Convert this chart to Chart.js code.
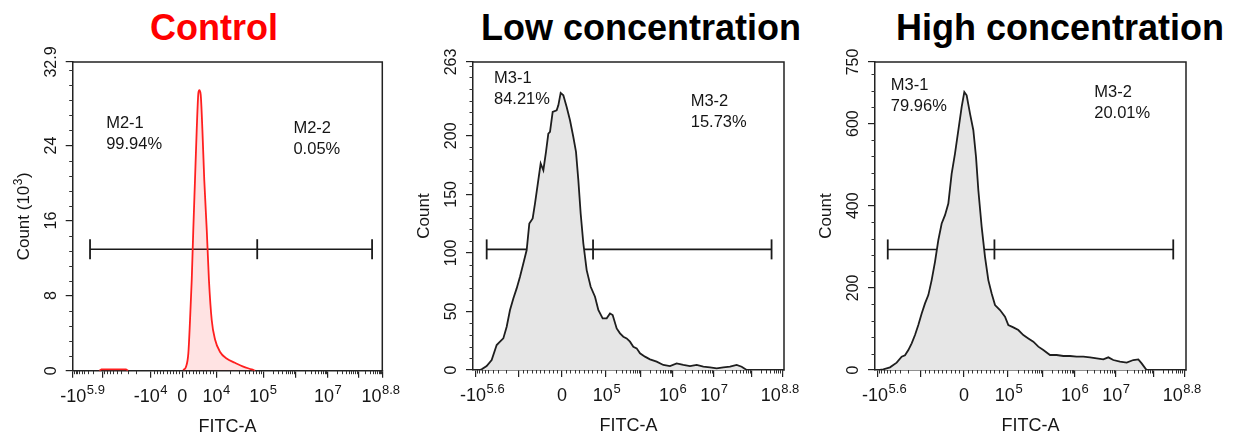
<!DOCTYPE html>
<html><head><meta charset="utf-8">
<script src="https://cdn.jsdelivr.net/npm/chart.js@4.4.1/dist/chart.umd.min.js"></script>
<style>
html,body{margin:0;padding:0;background:#fff;}
#wrap{position:relative;width:1233px;height:436px;overflow:hidden;background:#fff;}
canvas{position:absolute;top:0;}
.ttl{position:absolute;top:10px;font:bold 36px 'Liberation Sans',Arial,sans-serif;white-space:nowrap;transform:translateX(-50%);line-height:36px;}
</style></head>
<body><div id="wrap"></div>
<script>
// ---------------- data ----------------
const panelTitles = ['Control', 'Low concentration', 'High concentration'];
const titleColors = ['#ff0000', '#000000', '#000000'];

// Control histogram (x: position along FITC-A axis in %, y: count in 10^3)
const ctrlX = [35.7, 36.6, 37.35, 37.9, 38.45, 38.95, 39.5, 40.05, 40.6, 40.9, 41.35, 41.9, 42.5, 43.3, 44.0, 44.9, 46.0, 47.6, 49.7, 52.4, 55.1, 57.8, 58.9];
const ctrlY = [0.07, 0.43, 1.85, 5.4, 9.7, 15.0, 20.3, 25.6, 29.6, 29.9, 29.4, 25.6, 20.3, 15.0, 9.7, 5.4, 3.3, 2.0, 1.3, 0.85, 0.43, 0.14, 0];
const ctrlNegX = [8.6, 9.3, 13.0, 17.2, 17.9];
const ctrlNegY = [0, 0.15, 0.15, 0.15, 0];

// Low concentration histogram
const lowX = [2.0, 2.79, 4.39, 6.0, 7.61, 8.68, 9.75, 10.83, 11.9, 12.97, 14.04, 15.11, 16.18, 17.26, 18.11, 19.19, 19.94, 21.0, 21.76, 22.62, 23.47, 24.22, 24.76, 25.62, 26.9, 27.44, 28.19, 29.05, 30.12, 31.19, 32.26, 33.12, 33.87, 34.62, 35.48, 36.55, 37.84, 39.23, 40.3, 41.69, 42.98, 44.05, 44.91, 46.2, 47.27, 48.34, 49.41, 50.48, 51.55, 52.63, 53.7, 55.3, 56.91, 59.06, 61.2, 63.34, 65.49, 67.63, 69.77, 71.92, 74.06, 76.21, 78.35, 80.49, 82.64, 84.78, 86.39, 88.0];
const lowY = [0, 0.6, 3.4, 8.5, 21.3, 24.2, 27, 37, 51.2, 61.1, 69.7, 79.6, 91, 102.4, 125.1, 129.4, 142.2, 162.1, 176.3, 170.6, 186.2, 201.9, 203.3, 220.4, 221.8, 226, 236.6, 234.6, 224.6, 213.3, 199, 186.2, 162.1, 133.6, 108, 85.3, 71.1, 62.6, 51.2, 44.1, 44.1, 48.3, 46.9, 35.5, 31.3, 28.4, 27, 24.2, 19.9, 18.5, 14.2, 11.4, 9.1, 7.1, 4.3, 3.4, 5.7, 4.3, 3.4, 4.3, 2.8, 2.3, 1.4, 2.3, 2.8, 4.3, 2.8, 0];

// High concentration histogram
const highX = [1.5, 2.68, 4.82, 6.97, 8.57, 9.65, 10.72, 11.79, 12.86, 13.93, 15.01, 16.08, 17.15, 18.22, 19.29, 20.36, 21.44, 22.51, 23.58, 24.65, 25.72, 26.79, 27.87, 28.72, 29.47, 30.55, 31.62, 32.48, 33.23, 34.3, 35.37, 36.44, 37.51, 38.59, 40.19, 41.8, 42.87, 44.48, 46.09, 47.7, 49.3, 50.91, 52.52, 54.12, 56.27, 58.41, 60.56, 62.7, 64.84, 66.99, 69.13, 71.28, 73.42, 75.03, 76.63, 78.78, 80.92, 83.07, 84.67, 85.74, 87.14, 87.6];
const highY = [0, 1.6, 6.5, 17.8, 32.4, 35.7, 48.6, 64.9, 85.1, 109.5, 137.8, 162.2, 182.4, 218.9, 263.5, 316.2, 356.8, 377, 405.4, 478.4, 527, 583.8, 640.5, 677, 668.9, 624.3, 583.8, 518.9, 437.8, 348.6, 275.7, 218.9, 186.5, 158.1, 145.9, 129.7, 109.5, 103.8, 97.3, 85.1, 77, 68.9, 56.8, 48.6, 36.5, 36.5, 34.1, 34.1, 32.4, 32.4, 30.8, 28.4, 25.9, 30.8, 24.3, 20.3, 17.8, 24.3, 25.9, 16.2, 1.6, 0];

// Gates (marker bars): left, split, right positions and level
const gateCtrlX = [5.6, 59.6, 96.7];  const gateCtrlLevel = 12.95;
const gateLowX  = [4.4, 38.6, 96.0];  const gateLowLevel  = 103;
const gateHighX = [4.1, 38.4, 95.9];  const gateHighLevel = 293.6;

const gateNames = [['M2-1', 'M2-2'], ['M3-1', 'M3-2'], ['M3-1', 'M3-2']];
const gatePercents = [['99.94%', '0.05%'], ['84.21%', '15.73%'], ['79.96%', '20.01%']];

// Axis ticks
const yTicksCtrl = [0, 8, 16, 24, 32.9];
const yTicksLow  = [0, 50, 100, 150, 200, 263];
const yTicksHigh = [0, 200, 400, 600, 750];
const yMinorStep = [1.6, 10, 40];

const xTickLabelsCtrl = ['-10^5.9', '-10^4', '0', '10^4', '10^5', '10^7', '10^8.8'];
const xTickLabelsConc = ['-10^5.6', '0', '10^5', '10^6', '10^7', '10^8.8'];
const xLabelPosCtrl = [3.2, 25.2, 35.4, 46.4, 61.5, 82.4, 99.5];
const xLabelPosConc = [3.0, 28.6, 43.0, 64.3, 77.5, 98.7];
const xMajorCtrl = [0, 9.5, 25.2, 35.4, 46.4, 61.5, 71.9, 82.4, 92.2, 100];
const xMajorConc = [0.7, 14.7, 28.5, 42.6, 53.8, 64.2, 77.5, 89.5, 99.7];

const yTitles = [['Count (10', '3', ')'], ['Count'], ['Count']];
const xTitle = 'FITC-A';

// ---------------- layout ----------------
const FONT = "'Liberation Sans', Arial, sans-serif";
const TXT = '#151515';
const layout = [
  { left: 0,   width: 405, pad: { left: 72.7, right: 22.7, top: 62, bottom: 65.3 }, titleX: 214,
    labelPos: [{ x: 10.8, y: 26.3 }, { x: 71.3, y: 25.8 }] },
  { left: 405, width: 400, pad: { left: 68, right: 21, top: 62, bottom: 66 }, titleX: 641,
    labelPos: [{ x: 6.75, y: 248.8 }, { x: 70.0, y: 229.5 }] },
  { left: 805, width: 428, pad: { left: 70, right: 47, top: 62, bottom: 66 }, titleX: 1060,
    labelPos: [{ x: 5.1, y: 693 }, { x: 70.5, y: 675.5 }] }
];

function pairs(xs, ys) { return xs.map((x, i) => ({ x: x, y: ys[i] })); }

function minorTicks(majors, zero) {
  const out = [];
  for (let i = 0; i < majors.length - 1; i++) {
    const a = majors[i], b = majors[i + 1];
    const nearZero = Math.abs(a - zero) < 0.01 || Math.abs(b - zero) < 0.01;
    if (nearZero) {
      for (let j = 1; j <= 9; j++) out.push(a + (b - a) * j / 10);
    } else {
      for (let k = 2; k <= 9; k++) {
        out.push(b <= zero ? b - (b - a) * Math.log10(k) : a + (b - a) * Math.log10(k));
      }
    }
  }
  return out;
}
function yMinor(ticks, step) {
  const out = [], max = ticks[ticks.length - 1];
  for (let v = step; v < max - 1e-6; v += step) {
    if (!ticks.some(t => Math.abs(t - v) < 1e-6)) out.push(v);
  }
  return out;
}

const panels = [
  { datasets: [
      { xs: ctrlX, ys: ctrlY, line: '#ff1f1f', fill: 'rgba(255,40,40,0.13)', smooth: true },
      { xs: ctrlNegX, ys: ctrlNegY, line: '#ff1f1f', fill: false, smooth: false } ],
    gateX: gateCtrlX, gateLevel: gateCtrlLevel, yTicks: yTicksCtrl,
    xLabels: xTickLabelsCtrl, xLabelPos: xLabelPosCtrl, xMajor: xMajorCtrl, zero: 35.4 },
  { datasets: [ { xs: lowX, ys: lowY, line: '#1e1e1e', fill: '#e6e6e6', smooth: false } ],
    gateX: gateLowX, gateLevel: gateLowLevel, yTicks: yTicksLow,
    xLabels: xTickLabelsConc, xLabelPos: xLabelPosConc, xMajor: xMajorConc, zero: 28.5 },
  { datasets: [ { xs: highX, ys: highY, line: '#1e1e1e', fill: '#e6e6e6', smooth: false } ],
    gateX: gateHighX, gateLevel: gateHighLevel, yTicks: yTicksHigh,
    xLabels: xTickLabelsConc, xLabelPos: xLabelPosConc, xMajor: xMajorConc, zero: 28.5 }
];

const extras = {};

function drawRuns(ctx, runs, cx, cy, baseFont, supFont, supRise) {
  // runs: [{t, sup}] drawn centred at (cx, cy) on current transform, baseline alphabetic at cy
  let total = 0;
  const widths = runs.map(r => { ctx.font = r.sup ? supFont : baseFont; const w = ctx.measureText(r.t).width; total += w; return w; });
  total += (runs.length - 1) * 0.5;
  let x = cx - total / 2;
  ctx.textAlign = 'left';
  runs.forEach((r, i) => {
    ctx.font = r.sup ? supFont : baseFont;
    ctx.fillText(r.t, x, r.sup ? cy - supRise : cy);
    x += widths[i] + 0.5;
  });
}

const flowPlugin = {
  id: 'flowAxes',
  afterDraw(chart) {
    const e = extras[chart.canvas.id];
    const ctx = chart.ctx, a = chart.chartArea, xs = chart.scales.x, ys = chart.scales.y;
    ctx.save();
    // frame top/right
    ctx.strokeStyle = '#222'; ctx.lineWidth = 1.5;
    ctx.beginPath(); ctx.moveTo(a.left, a.top); ctx.lineTo(a.right, a.top); ctx.lineTo(a.right, a.bottom + 0.75); ctx.stroke();
    // minor ticks
    ctx.lineWidth = 1; ctx.strokeStyle = '#333';
    ctx.beginPath();
    e.xMinor.forEach(v => { const px = Math.round(xs.getPixelForValue(v)) + 0.5; ctx.moveTo(px, a.bottom); ctx.lineTo(px, a.bottom + 3.5); });
    e.yMinor.forEach(v => { const py = Math.round(ys.getPixelForValue(v)) + 0.5; ctx.moveTo(a.left, py); ctx.lineTo(a.left - 3.5, py); });
    ctx.stroke();
    ctx.fillStyle = TXT;
    // x tick labels with superscripts
    e.xLabels.forEach((lab, i) => {
      const parts = lab.split('^');
      const runs = [{ t: parts[0] }];
      if (parts[1]) runs.push({ t: parts[1], sup: true });
      drawRuns(ctx, runs, xs.getPixelForValue(e.xLabelPos[i]), a.bottom + 31, '18px ' + FONT, '13px ' + FONT, 8);
    });
    // x title
    ctx.font = '18px ' + FONT; ctx.textAlign = 'center'; ctx.textBaseline = 'alphabetic';
    ctx.fillText(xTitle, (a.left + a.right) / 2, a.bottom + 61);
    // y tick labels (rotated)
    e.yTicks.forEach(v => {
      ctx.save();
      ctx.translate(a.left - 22, ys.getPixelForValue(v));
      ctx.rotate(-Math.PI / 2);
      ctx.font = '16px ' + FONT; ctx.textAlign = 'center'; ctx.textBaseline = 'middle';
      ctx.fillText(String(v), 0, 1);
      ctx.restore();
    });
    // y title
    ctx.save();
    ctx.translate(a.left - 44, (a.top + a.bottom) / 2);
    ctx.rotate(-Math.PI / 2);
    ctx.textBaseline = 'alphabetic';
    const yt = e.yTitle;
    const runs = yt.map((t, i) => ({ t: t, sup: i === 1 }));
    drawRuns(ctx, runs, 0, 0, '17px ' + FONT, '12px ' + FONT, 7);
    ctx.restore();
    // gate labels
    ctx.font = '16.5px ' + FONT; ctx.textAlign = 'left'; ctx.textBaseline = 'middle';
    e.labelPos.forEach((p, i) => {
      const px = xs.getPixelForValue(p.x), py = ys.getPixelForValue(p.y);
      ctx.fillText(e.names[i], px, py);
      ctx.fillText(e.percents[i], px, py + 21);
    });
    ctx.restore();
  }
};

const wrap = document.getElementById('wrap');
panelTitles.forEach((t, i) => {
  const d = document.createElement('div');
  d.className = 'ttl'; d.textContent = t; d.style.color = titleColors[i]; d.style.left = layout[i].titleX + 'px';
  wrap.appendChild(d);
});

panels.forEach((p, i) => {
  const L = layout[i];
  const cv = document.createElement('canvas');
  cv.id = 'c' + i; cv.width = L.width; cv.height = 436;
  cv.style.left = L.left + 'px'; cv.style.width = L.width + 'px'; cv.style.height = '436px';
  wrap.appendChild(cv);
  extras[cv.id] = {
    xMinor: minorTicks(p.xMajor, p.zero), yMinor: yMinor(p.yTicks, yMinorStep[i]),
    xLabels: p.xLabels, xLabelPos: p.xLabelPos, yTicks: p.yTicks, yTitle: yTitles[i],
    labelPos: L.labelPos, names: gateNames[i], percents: gatePercents[i]
  };
  const ds = p.datasets.map(d => ({
    data: pairs(d.xs, d.ys), borderColor: d.line, borderWidth: 1.8,
    backgroundColor: d.fill || 'transparent', fill: d.fill ? 'origin' : false,
    pointRadius: 0, tension: d.smooth ? 0.35 : 0, cubicInterpolationMode: d.smooth ? 'monotone' : 'default'
  }));
  ds.push({
    data: p.gateX.map(x => ({ x: x, y: p.gateLevel })), borderColor: '#1a1a1a', borderWidth: 1.6,
    fill: false, pointStyle: 'line', rotation: 90, pointRadius: 10, pointBorderWidth: 1.8,
    pointBorderColor: '#1a1a1a', pointBackgroundColor: '#1a1a1a', tension: 0, clip: false
  });
  new Chart(cv, {
    type: 'line',
    data: { datasets: ds },
    options: {
      responsive: false, animation: false, devicePixelRatio: 1,
      layout: { padding: L.pad },
      plugins: { legend: { display: false }, tooltip: { enabled: false } },
      scales: {
        x: { type: 'linear', min: 0, max: 100,
             afterBuildTicks: s => { s.ticks = p.xMajor.map(v => ({ value: v })); },
             afterFit: s => { s.height = 0; },
             ticks: { display: false },
             grid: { display: true, drawOnChartArea: false, drawTicks: true, tickLength: 7, color: '#222', lineWidth: 1.2 },
             border: { display: true, color: '#222', width: 1.5 } },
        y: { type: 'linear', min: 0, max: p.yTicks[p.yTicks.length - 1],
             afterBuildTicks: s => { s.ticks = p.yTicks.map(v => ({ value: v })); },
             afterFit: s => { s.width = 0; },
             ticks: { display: false },
             grid: { display: true, drawOnChartArea: false, drawTicks: true, tickLength: 7, color: '#222', lineWidth: 1.2 },
             border: { display: true, color: '#222', width: 1.5 } }
      }
    },
    plugins: [flowPlugin]
  });
});
</script>
</body></html>
